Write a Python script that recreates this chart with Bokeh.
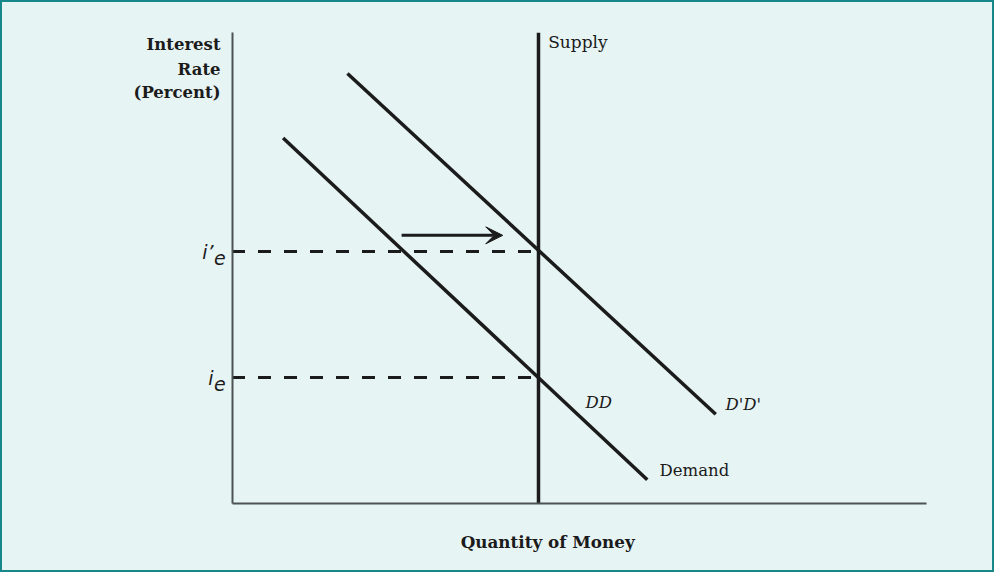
from bokeh.plotting import figure
from bokeh.models import Range1d, LinearAxis, FixedTicker, Arrow, VeeHead
from bokeh.core.properties import value
from bokeh.embed import file_html
from bokeh.resources import INLINE

# ---- data (arbitrary units: quantity of money / interest rate) ----
supply_x = [6.0, 6.0]
supply_y = [0.0, 9.34]
dd_x = [1.0, 8.13]
dd_y = [7.25, 0.47]
ddp_x = [2.26, 9.47]
ddp_y = [8.53, 1.77]
i_e = 2.5
i_e_prime = 5.0
arrow_x = [3.32, 5.30]
arrow_y = 5.32
axis_x_end = 13.6
axis_y_end = 9.35

BG = "#e7f4f4"
TEAL = "#17878a"
INK = "#1b1b1b"
AXIS = "#4d5253"
SERIF = "DejaVu Serif"

p = figure(width=994, height=572, output_backend="svg", toolbar_location=None,
           x_range=Range1d(-4.532, 14.927), y_range=Range1d(-1.369, 9.980),
           x_axis_type=None, y_axis_type=None, min_border=0,
           background_fill_color=BG, border_fill_color=BG)
p.grid.visible = False
p.outline_line_color = TEAL
p.outline_line_width = 3

def bare_axis(ax):
    ax.ticker = FixedTicker(ticks=[])
    ax.major_tick_line_color = None
    ax.minor_tick_line_color = None
    ax.major_label_text_font_size = "0px"
    ax.axis_line_color = AXIS
    ax.axis_line_width = 2
    ax.fixed_location = 0
    return ax

yax = bare_axis(LinearAxis(bounds=(0, axis_y_end)))
xax = bare_axis(LinearAxis(bounds=(0, axis_x_end)))
p.add_layout(yax, "left")
p.add_layout(xax, "below")

# dashed equilibrium guides
for lvl in (i_e_prime, i_e):
    p.line([0, supply_x[0]], [lvl, lvl], line_color=INK, line_width=3, line_dash="13 13")

# curves
p.line(supply_x, supply_y, line_color=INK, line_width=3.5)
p.line(dd_x, dd_y, line_color=INK, line_width=3.5)
p.line(ddp_x, ddp_y, line_color=INK, line_width=3.5)

# shift arrow
p.add_layout(Arrow(end=VeeHead(size=17, fill_color=INK, line_color=INK, line_width=1),
                   x_start=arrow_x[0], y_start=arrow_y, x_end=arrow_x[1], y_end=arrow_y,
                   line_color=INK, line_width=3))

# labels
def label(x, y, t, size="16.5px", style="normal", align="left", baseline="middle", font=SERIF):
    p.text(x=[x], y=[y], text=[t], text_font=value(font), text_font_size=size,
           text_font_style=style, text_align=align, text_baseline=baseline, text_color=INK)

label(6.19, 9.15, "Supply", size="17px")
label(6.92, 2.0, "DD", style="italic")
label(9.66, 1.96, "D'D'", style="italic")
label(8.37, 0.65, "Demand")
label(6.18, -0.754, "Quantity of Money", size="16.8px", style="bold", align="center")
label(-0.225, 9.11, "Interest", style="bold", align="right")
label(-0.225, 8.62, "Rate", style="bold", align="right")
label(-0.225, 8.15, "(Percent)", style="bold", align="right")

# i'_e and i_e
label(-0.36, i_e_prime - 0.01, "i’", size="19px", style="italic", align="right",
      baseline="alphabetic", font="DejaVu Sans")
label(-0.35, i_e_prime - 0.12, "e", size="19px", style="italic", align="left",
      baseline="alphabetic", font="DejaVu Sans")
label(-0.36, i_e - 0.01, "i", size="19px", style="italic", align="right",
      baseline="alphabetic", font="DejaVu Sans")
label(-0.35, i_e - 0.12, "e", size="19px", style="italic", align="left",
      baseline="alphabetic", font="DejaVu Sans")

open("out.html", "w").write(file_html(p, INLINE))
